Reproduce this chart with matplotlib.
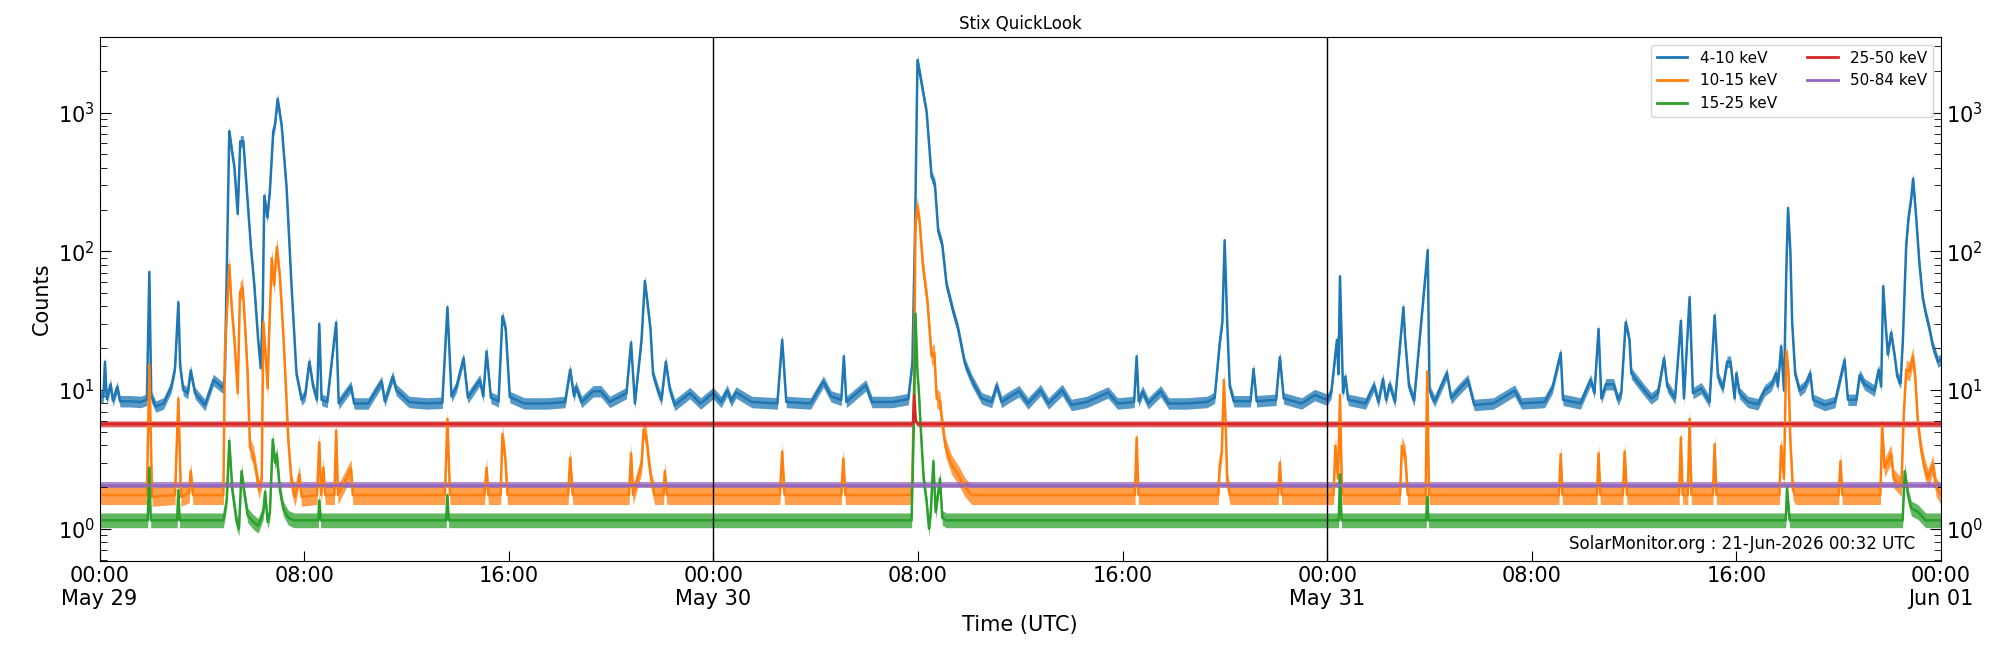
import numpy as np
import pandas as pd
import matplotlib
matplotlib.use("Agg")
import matplotlib.pyplot as plt
import matplotlib.dates as mdates
from matplotlib.ticker import FuncFormatter, LogLocator

# Stix QuickLook light curves, 29-31 May (hours since 29-May 00:00 UTC, counts)
start = pd.Timestamp("2026-05-29 00:00")

t_4_10 = [0.00, 0.15, 0.21, 0.28, 0.43, 0.52, 0.69, 0.80, 1.20, 1.60, 1.85, 1.945, 2.02, 2.20, 2.50, 2.80,
          2.95, 3.08, 3.15, 3.27, 3.45, 3.56, 3.73, 4.12, 4.45, 4.84, 4.90, 4.97, 5.07, 5.18, 5.27, 5.40,
          5.50, 5.62, 5.75, 5.92, 6.05, 6.20, 6.30, 6.38, 6.44, 6.56, 6.66, 6.79, 6.86, 6.96, 7.12, 7.31,
          7.51, 7.70, 7.90, 8.04, 8.20, 8.35, 8.50, 8.59, 8.68, 8.90, 9.25, 9.35, 9.83, 9.95, 10.5, 11.03,
          11.15, 11.46, 11.60, 12.1, 12.8, 13.4, 13.6, 13.76, 13.95, 14.23, 14.40, 14.87, 15.0, 15.13, 15.30,
          15.60, 15.75, 15.88, 16.04, 16.6, 17.5, 18.2, 18.4, 18.55, 18.62, 18.85, 19.3, 19.6, 19.95, 20.6,
          20.78, 20.93, 21.19, 21.32, 21.42, 21.54, 21.64, 21.84, 21.97, 22.14, 22.30, 22.49, 23.08, 23.5,
          23.99, 24.3, 24.54, 24.7, 24.88, 25.5, 26.5, 26.69, 26.85, 27.8, 28.3, 28.6, 29.0, 29.1, 29.2,
          29.96, 30.2, 31.0, 31.62, 31.78, 31.88, 31.98, 32.11, 32.34, 32.53, 32.66, 32.79, 32.95, 33.12,
          33.38, 33.57, 33.83, 34.1, 34.49, 34.88, 35.07, 35.27, 35.6, 35.95, 36.3, 36.79, 37.1, 37.64,
          38.0, 38.6, 39.43, 39.8, 40.45, 40.55, 40.63, 40.78, 41.0, 41.49, 41.8, 42.5, 43.3, 43.6, 43.8,
          43.9, 43.99, 44.09, 44.19, 44.35, 45.0, 45.12, 45.24, 46.0, 46.15, 46.3, 47.0, 47.51, 48.0, 48.16,
          48.38, 48.44, 48.50, 48.62, 48.71, 48.82, 49.5, 49.83, 50.0, 50.18, 50.3, 50.44, 50.65, 50.98,
          51.05, 51.2, 51.4, 51.93, 52.0, 52.2, 52.68, 52.85, 53.11, 53.5, 53.75, 54.5, 55.33, 55.6, 56.5,
          56.8, 57.13, 57.22, 57.9, 58.3, 58.45, 58.61, 58.72, 58.9, 59.2, 59.37, 59.5, 59.67, 59.82, 59.89,
          60.09, 60.41, 60.67, 60.93, 61.17, 61.3, 61.6, 61.83, 61.95, 62.17, 62.3, 62.63, 62.95, 63.15,
          63.28, 63.47, 63.64, 63.77, 63.93, 64.0, 64.12, 64.45, 64.84, 65.1, 65.36, 65.56, 65.62, 65.75,
          65.86, 65.95, 66.02, 66.11, 66.18, 66.30, 66.47, 66.67, 66.89, 67.0, 67.45, 67.85, 68.23, 68.36,
          68.69, 68.82, 69.01, 69.4, 69.56, 69.66, 69.74, 69.83, 69.92, 70.05, 70.19, 70.29, 70.42, 70.51,
          70.64, 70.73, 70.84, 70.91, 71.03, 71.16, 71.29, 71.42, 71.55, 71.68, 71.88, 72.0]
c_4_10 = [8.9, 9.0, 16, 8.6, 11, 8.4, 10.5, 8.3, 8.3, 8.2, 8.5, 71, 9.0, 7.6, 8.0, 10.5,
          14.4, 43, 15, 10, 9.5, 13.8, 9.5, 7.8, 11.8, 10.3, 13, 71, 734, 520, 405, 186,
          620, 620, 290, 105, 57, 23, 14.4, 40, 251, 175, 275, 734, 820, 1253, 800, 290,
          54, 13, 8.5, 9.2, 16, 10.6, 8.5, 30, 8.5, 8.2, 30.7, 8.0, 10.6, 8.0, 8.0, 11.5,
          8.3, 12.5, 10.0, 8.2, 8.0, 8.1, 39.5, 9.0, 10.5, 17, 8.8, 11.8, 9.0, 19, 8.8,
          8.3, 34, 27.5, 8.9, 8.0, 8.0, 8.2, 14, 9.0, 10.6, 8.2, 9.8, 9.8, 8.2, 9.5,
          22, 8.0, 23, 61, 43, 27.5, 13, 9.8, 8.5, 16, 10, 7.8, 9.5, 8.0,
          9.5, 8.2, 9.9, 8.3, 9.6, 8.2, 8.0, 23, 8.2, 8.0, 11.5, 9.0, 8.5, 17.5, 8.2,
          10.8, 8.2, 8.2, 8.6, 15.6, 125, 2388, 1750, 1000, 345, 305, 140, 111, 57,
          36.5, 27.5, 15.6, 11.8, 8.7, 8.2, 10.8, 8.2, 9.0, 9.8, 8.0, 10, 8.0, 10,
          7.8, 8.2, 9.6, 8.0, 8.2, 17.5, 8.3, 9.8, 8.0, 9.8, 8.0, 8.0, 8.2, 8.8, 22,
          30.7, 120, 30.7, 10.6, 8.3, 8.3, 14.2, 8.3, 8.5, 17.3, 8.7, 8.0, 9.2, 8.5, 9.6,
          23, 13, 66, 9.5, 12.5, 8.5, 8.0, 10.8, 8.2, 12, 8.5, 11, 8.2, 39.5,
          23, 10.6, 8.4, 102, 9.9, 8.3, 13.2, 8.7, 9.9, 11.8, 7.8, 8.0, 9.9, 8.0, 8.2,
          10.3, 18.5, 8.5, 8.0, 11.8, 9.5, 27.5, 8.7, 11, 11, 8.5, 9.5, 30.7, 23, 13.2,
          11.8, 9.9, 8.7, 9.5, 17, 10.6, 8.7, 31.5, 8.7, 46.7, 9.5, 10.3, 8.2, 34.5,
          12.4, 10.3, 16, 16, 8.7, 13.2, 9.5, 8.2, 7.9, 9.9, 10.8, 13.2, 10.6, 20.7,
          9.9, 71, 205, 100, 30.7, 13, 9.9, 10.6, 13.2, 8.5, 7.8, 8.2, 16.5, 8.5,
          8.5, 12.8, 11, 9.9, 14, 10.6, 56, 30.7, 18, 25.9, 17.5, 12.5, 11.2, 23,
          111, 175, 245, 334, 175, 80, 45.6, 34.5, 27.5, 20.7, 16, 16.5]

t_10_15 = [0.0, 1.85, 1.945, 2.05, 2.95, 3.08, 3.18, 3.5, 3.56, 3.65, 4.84, 4.90, 4.99, 5.07, 5.16, 5.27,
           5.40, 5.49, 5.59, 5.68, 5.79, 5.88, 6.01, 6.14, 6.23, 6.34, 6.40, 6.49, 6.57, 6.62, 6.73, 6.82,
           6.93, 7.05, 7.18, 7.29, 7.38, 7.51, 7.64, 7.81, 7.9, 8.5, 8.59, 8.66, 8.75, 8.82, 9.18, 9.25,
           9.32, 9.83, 9.9, 13.5, 13.6, 13.7, 15.05, 15.13, 15.2, 15.68, 15.75, 15.86, 15.95, 18.32, 18.4,
           18.5, 20.7, 20.78, 20.86, 21.19, 21.27, 21.38, 21.49, 21.58, 21.7, 22.05, 22.1, 22.18, 26.6,
           26.69, 26.78, 29.0, 29.08, 29.16, 31.72, 31.78, 31.85, 31.9, 31.97, 32.07, 32.2, 32.37, 32.53, 32.64,
           32.73, 32.86, 32.95, 33.08, 33.31, 33.57, 33.83, 34.1, 40.48, 40.55, 40.62, 43.74, 43.8, 43.88, 43.96,
           44.03, 44.09, 44.2, 46.08, 46.15, 46.22, 48.25, 48.32, 48.42, 48.5, 48.58, 50.85, 50.92, 51.05,
           51.15, 51.85, 51.91, 51.98, 57.06, 57.13, 57.2, 58.55, 58.61, 58.68, 59.56, 59.63, 59.72, 61.76,
           61.83, 61.9, 62.1, 62.17, 62.24, 63.08, 63.15, 63.22, 65.68, 65.75, 65.86, 65.95, 66.04, 66.11,
           66.21, 66.3, 68.0, 68.07, 68.14, 69.63, 69.7, 69.79, 70.05, 70.15, 70.45, 70.54, 70.64, 70.77,
           70.9, 70.99, 71.1, 71.23, 71.36, 71.49, 71.68, 71.81, 72.0]
c_10_15 = [1.75, 1.75, 15.3, 1.7, 1.75, 8.7, 1.7, 1.8, 2.6, 1.75, 1.75, 18.5, 40.7, 80, 40.7, 23,
           9.5, 51, 55, 30.7, 13, 3.84, 3.4, 2.46, 1.9, 2.3, 30.7, 18, 10.3, 23, 89, 57,
           107, 65, 26, 10, 4.3, 2.1, 1.7, 2.46, 1.7, 1.75, 4.2, 1.75, 2.75, 1.75, 1.75, 5.1,
           1.75, 2.7, 1.75, 1.75, 6.2, 1.75, 1.75, 2.75, 1.75, 1.75, 4.8, 3.25, 1.75, 1.75, 3.25,
           1.75, 1.75, 3.5, 1.75, 2.9, 5.2, 4.55, 2.9, 2.2, 1.75, 1.75, 2.6, 1.75, 1.75,
           3.6, 1.75, 1.75, 3.2, 1.75, 1.75, 2.2, 13, 157, 213, 157, 76, 43, 17.5, 18.5,
           8.7, 8.3, 5.7, 3.85, 2.9, 2.46, 2.0, 1.75, 1.75, 4.55, 1.75, 1.75, 2.9, 3.6, 11.8,
           5.7, 2.2, 1.75, 1.75, 3.0, 1.75, 1.75, 3.96, 2.3, 9.2, 1.75, 1.75, 3.96, 3.4,
           1.75, 1.75, 13.6, 1.75, 1.75, 3.45, 1.75, 1.75, 3.5, 1.75, 1.75, 3.6, 1.75, 1.75,
           4.55, 1.75, 1.75, 6.2, 1.75, 1.75, 4.07, 1.75, 1.75, 3.96, 2.3, 19, 13.2, 4.3,
           1.9, 1.75, 1.75, 3.07, 1.75, 1.75, 5.55, 2.75, 3.45, 2.3, 2.0, 6.4, 14, 13.6,
           17.5, 12.5, 5.7, 3.64, 2.75, 2.3, 2.9, 2.0, 1.75]

t_15_25 = [0.0, 1.88, 1.945, 2.0, 3.03, 3.08, 3.13, 4.84, 4.97, 5.07, 5.19, 5.36, 5.45, 5.55, 5.65, 5.79,
           6.01, 6.2, 6.4, 6.47, 6.57, 6.66, 6.77, 6.86, 6.93, 7.05, 7.18, 7.38, 7.6, 8.55, 8.59, 8.65,
           13.55, 13.6, 13.65, 31.75, 31.85, 31.9, 31.98, 32.03, 32.11, 32.22, 32.34, 32.43, 32.5, 32.6,
           32.69, 32.86, 32.95, 33.1, 48.45, 48.5, 48.56, 51.87, 51.91, 51.96, 65.93, 65.98, 66.08, 70.5,
           70.58, 70.71, 70.84, 71.1, 71.4, 72.0]
c_15_25 = [1.15, 1.15, 2.75, 1.15, 1.15, 1.9, 1.15, 1.15, 1.6, 4.3, 1.9, 1.12, 1.0, 2.6, 1.85, 1.25,
           1.12, 1.05, 1.32, 1.85, 1.12, 1.32, 4.4, 3.0, 3.44, 1.9, 1.4, 1.2, 1.15, 1.15, 1.6, 1.15,
           1.15, 1.75, 1.15, 1.15, 7.55, 35.5, 13.2, 10, 5.2, 2.3, 1.55, 1.0, 1.32, 3.07,
           1.32, 2.3, 1.2, 1.15, 1.15, 2.46, 1.15, 1.15, 1.7, 1.15, 1.15, 1.96, 1.15, 1.15,
           2.6, 1.75, 1.4, 1.32, 1.15, 1.15]

t_25_50 = [0.0, 31.8, 31.85, 31.92, 32.0, 72.0]
c_25_50 = [5.7, 5.7, 9.2, 5.9, 5.7, 5.7]

t_50_84 = [0.0, 72.0]
c_50_84 = [2.07, 2.07]

labels = ["4-10 keV", "10-15 keV", "15-25 keV", "25-50 keV", "50-84 keV"]
colors = ["tab:blue", "tab:orange", "tab:green", "tab:red", "tab:purple"]
# vertical half-spread of the noisy band drawn around each curve (style only)
spread = [1.10, 1.17, 1.13, 1.05, 1.045]

series = [(t_4_10, c_4_10), (t_10_15, c_10_15), (t_15_25, c_15_25),
          (t_25_50, c_25_50), (t_50_84, c_50_84)]

fig = plt.figure(figsize=(20, 6.5), dpi=100)
ax = fig.add_axes([0.0498, 0.137, 0.9207, 0.806])

for (t, c), lab, col, s in zip(series, labels, colors, spread):
    times = start + pd.to_timedelta(np.array(t), unit="h")
    vals = np.array(c, dtype=float)
    ax.fill_between(times, vals / s, vals * s, color=col, lw=0, alpha=0.75)
    ax.plot(times, vals, color=col, lw=1.8, label=lab)

for day in ["2026-05-30", "2026-05-31"]:
    ax.axvline(pd.Timestamp(day), color="black", lw=1)

ax.set_yscale("log")
ax.set_ylim(0.586, 3500)
ax.set_xlim(start, start + pd.Timedelta(hours=72))

ax.xaxis.set_major_locator(mdates.HourLocator(byhour=[0, 8, 16]))

def fmt_time(x, pos):
    d = mdates.num2date(x)
    if d.hour == 0:
        return d.strftime("%H:%M\n%b %d")
    return d.strftime("%H:%M")

ax.xaxis.set_major_formatter(FuncFormatter(fmt_time))
ax.yaxis.set_minor_locator(LogLocator(base=10, subs=np.arange(2, 10)))

ax.tick_params(axis="both", which="both", direction="in", labelsize=15)
ax.tick_params(axis="y", which="both", right=True, labelright=True)
ax.tick_params(axis="y", which="major", length=8)
ax.tick_params(axis="y", which="minor", length=5)
ax.tick_params(axis="x", which="major", length=7)

ax.set_xlabel("Time (UTC)", fontsize=15)
ax.set_ylabel("Counts", fontsize=15)
ax.set_title("Stix QuickLook", fontsize=12)

leg = ax.legend(loc="upper right", ncol=2, fontsize=11)
for ln in leg.get_lines():
    ln.set_linewidth(2)

ax.text(0.986, 0.032, "SolarMonitor.org : 21-Jun-2026 00:32 UTC", transform=ax.transAxes,
        ha="right", va="center", fontsize=12)

fig.savefig("out.png", dpi=100)
